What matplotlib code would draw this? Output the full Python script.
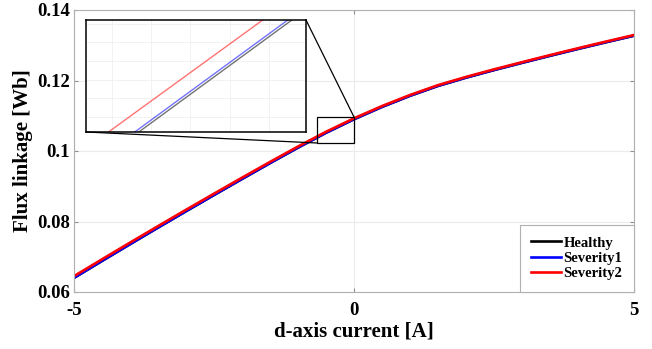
import numpy as np
import matplotlib
matplotlib.use('Agg')
import matplotlib.pyplot as plt
from matplotlib.patches import Rectangle, ConnectionPatch
from matplotlib.ticker import MultipleLocator

plt.rcParams['font.family'] = ['Liberation Serif', 'DejaVu Serif']
plt.rcParams['font.weight'] = 'bold'

# d-axis current sweep [A] and flux linkage [Wb]
i_d = [-5.0, -4.5, -4.0, -3.5, -3.0, -2.5, -2.0, -1.5, -1.0, -0.5, 0.0,
       0.5, 1.0, 1.5, 2.0, 2.5, 3.0, 3.5, 4.0, 4.5, 5.0]
healthy = [0.06400, 0.06880, 0.07355, 0.07825, 0.08290, 0.08750, 0.09205,
           0.09655, 0.10095, 0.10515, 0.10900, 0.11250, 0.11565, 0.11845,
           0.12080, 0.12295, 0.12500, 0.12700, 0.12895, 0.13085, 0.13270]
severity1 = [0.06404, 0.06884, 0.07359, 0.07829, 0.08294, 0.08754, 0.09209,
             0.09659, 0.10099, 0.10519, 0.10904, 0.11254, 0.11569, 0.11849,
             0.12084, 0.12299, 0.12504, 0.12704, 0.12899, 0.13089, 0.13274]
severity2 = [0.06450, 0.06928, 0.07401, 0.07869, 0.08332, 0.08790, 0.09243,
             0.09690, 0.10127, 0.10545, 0.10927, 0.11275, 0.11589, 0.11868,
             0.12102, 0.12316, 0.12520, 0.12720, 0.12915, 0.13105, 0.13290]

series = [('Healthy', healthy, 'black'),
          ('Severity1', severity1, 'blue'),
          ('Severity2', severity2, 'red')]

fig = plt.figure(figsize=(6.52, 3.49), dpi=100)
ax = fig.add_axes([74/652, 57/349, 560/652, 282/349])

for name, vals, col in series:
    ax.plot(i_d, vals, color=col, lw=1.9, label=name)

ax.set_xlim(-5, 5)
ax.set_ylim(0.06, 0.14)
ax.set_xticks([-5, 0, 5])
ax.set_xticklabels(['-5', '0', '5'])
ax.set_yticks([0.06, 0.08, 0.1, 0.12, 0.14])
ax.set_yticklabels(['0.06', '0.08', '0.1', '0.12', '0.14'])
ax.grid(True, color='#ebebeb', lw=0.8)
ax.set_axisbelow(True)
for s in ax.spines.values():
    s.set_color('#b0b0b0')
    s.set_linewidth(0.8)
ax.tick_params(direction='in', length=3, color='#909090', labelsize=13.5,
               top=True, right=True, pad=3)
ax.tick_params(axis='x', pad=7)
ax.set_xlabel('d-axis current [A]', fontsize=15, fontweight='bold', labelpad=2)
ax.set_ylabel('Flux linkage [Wb]', fontsize=15, fontweight='bold', labelpad=3)

leg = ax.legend(loc='lower right', fontsize=10.5, borderaxespad=0.0,
                handlelength=2.0, handletextpad=0.2, labelspacing=0.15,
                fancybox=False, framealpha=1, borderpad=0.8)
leg.get_frame().set_edgecolor('#b0b0b0')
leg.get_frame().set_linewidth(0.8)

# zoom window on the main plot
rx0, rx1, ry0, ry1 = -0.66, 0.0, 0.10227, 0.10965
ax.add_patch(Rectangle((rx0, ry0), rx1 - rx0, ry1 - ry0, fill=False,
                       ec='black', lw=0.9, zorder=5))

# inset
axin = fig.add_axes([86/652, 217/349, 220/652, 112/349])
for name, vals, col in series:
    axin.plot(i_d, vals, color=col, lw=1.0, alpha=0.55)
axin.set_xlim(-0.4828, -0.2028)
axin.set_ylim(0.10580, 0.10730)
axin.xaxis.set_major_locator(MultipleLocator(0.05))
axin.yaxis.set_major_locator(MultipleLocator(0.00025))
axin.tick_params(length=0, labelbottom=False, labelleft=False)
axin.grid(True, color='#f0f0f0', lw=0.6)
for s in axin.spines.values():
    s.set_color('black')
    s.set_linewidth(1.1)

c1 = ConnectionPatch(xyA=(0, 0), coordsA=axin.transAxes,
                     xyB=(rx0, ry0), coordsB=ax.transData, color='black', lw=0.9)
c2 = ConnectionPatch(xyA=(1, 1), coordsA=axin.transAxes,
                     xyB=(rx1, ry1), coordsB=ax.transData, color='black', lw=0.9)
fig.add_artist(c1)
fig.add_artist(c2)

fig.savefig('out.png', dpi=100)
